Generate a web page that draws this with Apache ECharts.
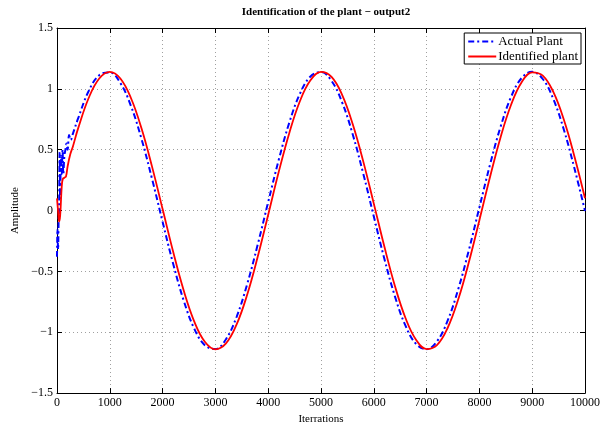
<!DOCTYPE html>
<html>
<head>
<meta charset="utf-8">
<script src="https://cdn.jsdelivr.net/npm/echarts@6/dist/echarts.min.js"></script>
<style>html,body{margin:0;padding:0;background:#fff}#c{width:610px;height:430px}</style>
</head>
<body>
<div id="c"></div>
<script>
// Tick labels
const xTicks = [0,1000,2000,3000,4000,5000,6000,7000,8000,9000,10000];
const yTicks = [-1.5,-1,-0.5,0,0.5,1,1.5];

// Actual Plant (blue dash-dot)
const blueIter = [0,10,20,30,40,50,60,75,90,105,120,140,160,180,200,230,260,300,400,
  600,800,1000,1200,1400,1600,1800,2000,2200,2400,2600,2800,3000,3200,3400,3600,3800,
  4000,4200,4400,4600,4800,5000,5200,5400,5600,5800,6000,6200,6400,6600,6800,7000,
  7200,7400,7600,7800,8000,8200,8400,8600,8800,9000,9200,9400,9600,9800,10000];
const blueAmp = [-0.38,-0.15,-0.32,-0.10,0.05,0.48,0.10,0.45,0.30,0.50,0.30,0.45,0.50,0.55,0.50,0.62,0.58,0.63,0.757,
  0.982,1.112,1.135,1.048,0.860,0.589,0.260,-0.093,-0.438,-0.740,-0.971,-1.107,-1.137,-1.057,-0.875,-0.608,-0.282,
  0.071,0.417,0.723,0.959,1.102,1.138,1.065,0.889,0.627,0.304,-0.048,-0.396,-0.705,-0.946,-1.096,-1.139,
  -1.073,-0.903,-0.645,-0.326,0.026,0.375,0.687,0.934,1.089,1.140,1.081,0.916,0.664,0.347,-0.003];

// Identified plant (red solid)
const redIter = [0,20,40,60,90,110,140,170,200,250,300,400,
  600,800,1000,1200,1400,1600,1800,2000,2200,2400,2600,2800,3000,3200,3400,3600,3800,
  4000,4200,4400,4600,4800,5000,5200,5400,5600,5800,6000,6200,6400,6600,6800,7000,
  7200,7400,7600,7800,8000,8200,8400,8600,8800,9000,9200,9400,9600,9800,10000];
const redAmp = [0.10,0.00,-0.09,-0.04,0.20,0.26,0.27,0.28,0.36,0.46,0.525,0.675,
  0.925,1.085,1.140,1.085,0.925,0.676,0.361,0.012,-0.339,-0.657,-0.912,-1.078,-1.140,-1.092,-0.938,-0.694,-0.382,
  -0.034,0.318,0.638,0.898,1.070,1.139,1.098,0.951,0.711,0.404,0.057,-0.296,-0.620,-0.883,-1.062,-1.138,
  -1.104,-0.963,-0.729,-0.425,-0.079,0.274,0.601,0.869,1.054,1.136,1.109,0.975,0.746,0.445,0.101];

const FONT = '"Liberation Serif", "Times New Roman", serif';
const zip = (a, b) => a.map((v, i) => [v, b[i]]);

const chart = echarts.init(document.getElementById('c'), null, {renderer: 'canvas'});

const baseAxis = {
  axisLine: {show: true, onZero: false, lineStyle: {color: '#000', width: 1}},
  axisTick: {show: true, inside: true, length: 5, lineStyle: {color: '#000'}},
  splitLine: {show: false},
  axisLabel: {show: false}
};

chart.setOption({
  animation: false,
  backgroundColor: '#fff',
  title: {
    text: 'Identification of the plant \u2212 output2',
    left: 321, top: 2, textAlign: 'center',
    textStyle: {fontFamily: FONT, fontSize: 11, fontWeight: 'bold', color: '#000'}
  },
  grid: {left: 57, right: 25, top: 28, bottom: 34, containLabel: false},
  legend: {
    right: 29, top: 33,
    orient: 'vertical',
    backgroundColor: '#fff',
    borderColor: '#000', borderWidth: 1, borderRadius: 0,
    padding: [2, 3, 1, 3],
    itemGap: 2,
    itemWidth: 28, itemHeight: 12,
    itemStyle: {opacity: 0},
    textStyle: {fontFamily: FONT, fontSize: 13, color: '#000', padding: [0, 0, 0, -3]},
    data: ['Actual Plant', 'Identified plant']
  },
  xAxis: [
    Object.assign({}, baseAxis, {
      type: 'value', min: 0, max: 10000, interval: 1000, position: 'bottom',
      name: 'Iterrations', nameLocation: 'middle', nameGap: 18,
      nameTextStyle: {fontFamily: FONT, fontSize: 11, color: '#000'},
      axisLabel: {show: true, fontFamily: FONT, fontSize: 12, color: '#000', margin: 4,
        formatter: v => xTicks.includes(v) ? String(v) : ''},
      splitLine: {show: true, lineStyle: {color: '#a0a0a0', type: [1, 3], width: 1}}
    }),
    Object.assign({}, baseAxis, {
      type: 'value', min: 0, max: 10000, interval: 1000, position: 'top'
    })
  ],
  yAxis: [
    Object.assign({}, baseAxis, {
      type: 'value', min: -1.5, max: 1.5, interval: 0.5, position: 'left',
      name: 'Amplitude', nameLocation: 'middle', nameGap: 32, nameRotate: 90,
      nameTextStyle: {fontFamily: FONT, fontSize: 11, color: '#000'},
      axisLabel: {show: true, fontFamily: FONT, fontSize: 12, color: '#000', margin: 4,
        formatter: v => {
          if (!yTicks.some(t => Math.abs(t - v) < 1e-9)) return '';
          return (v < 0 ? '\u2212' : '') + String(Math.abs(v));
        }},
      splitLine: {show: true, lineStyle: {color: '#a0a0a0', type: [1, 3], width: 1}}
    }),
    Object.assign({}, baseAxis, {
      type: 'value', min: -1.5, max: 1.5, interval: 0.5, position: 'right'
    })
  ],
  series: [
    {
      name: 'Actual Plant', type: 'line', xAxisIndex: 0, yAxisIndex: 0,
      data: zip(blueIter, blueAmp),
      showSymbol: false, symbol: 'none', smooth: 0.4,
      lineStyle: {color: '#0000ff', width: 2, type: [6, 3, 2, 3]},
      itemStyle: {color: '#0000ff'},
      z: 3
    },
    {
      name: 'Identified plant', type: 'line', xAxisIndex: 0, yAxisIndex: 0,
      data: zip(redIter, redAmp),
      showSymbol: false, symbol: 'none', smooth: 0.4,
      lineStyle: {color: '#ff0000', width: 1.8, type: 'solid'},
      itemStyle: {color: '#ff0000'},
      z: 4
    }
  ]
});
</script>
</body>
</html>
